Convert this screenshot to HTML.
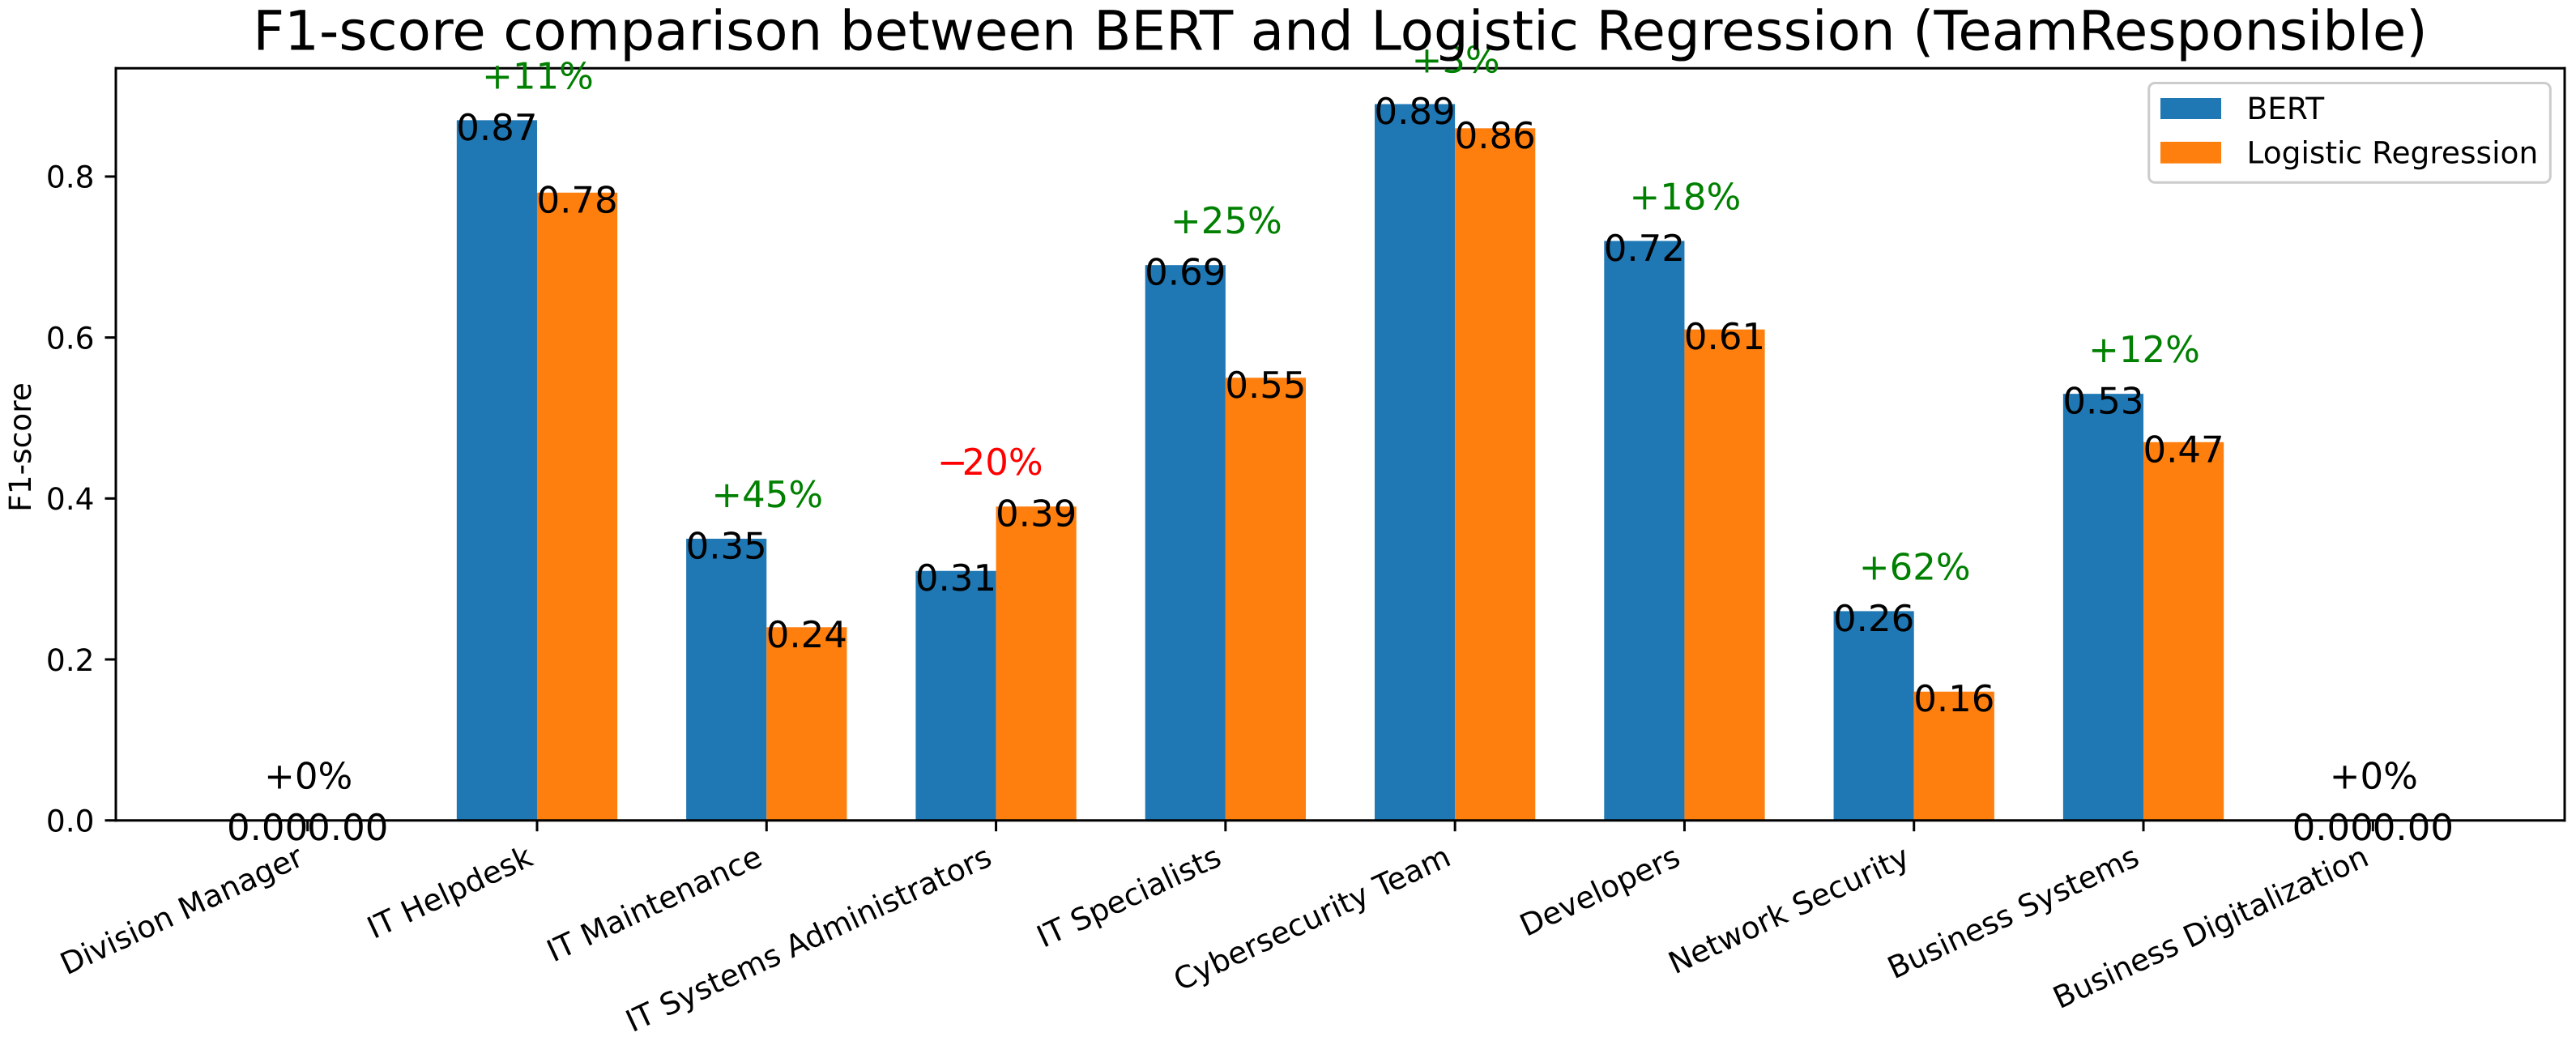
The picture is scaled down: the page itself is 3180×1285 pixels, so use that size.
<!DOCTYPE html>
<html lang="en">
<head>
<meta charset="utf-8">
<title>F1-score comparison</title>
<style>
html,body{margin:0;padding:0;background:#fff;width:3180px;height:1285px;overflow:hidden}
svg{display:block}
text{font-family:"DejaVu Sans","Liberation Sans",sans-serif;text-rendering:geometricPrecision}
</style>
</head>
<body>
<svg id="chart" xmlns="http://www.w3.org/2000/svg" width="3180" height="1285" viewBox="0 0 3180 1285">
<rect x="0" y="0" width="3180" height="1285" fill="#ffffff"></rect>
</svg>
<script>
const categories = ['Division Manager','IT Helpdesk','IT Maintenance','IT Systems Administrators','IT Specialists','Cybersecurity Team','Developers','Network Security','Business Systems','Business Digitalization'];
const bertValues = [0,0.87,0.35,0.31,0.69,0.89,0.72,0.26,0.53,0];
const logregValues = [0,0.78,0.24,0.39,0.55,0.86,0.61,0.16,0.47,0];
const improvementPct = [0,11,45,-20,25,3,18,62,12,0];
const yTickValues = [0,0.2,0.4,0.6,0.8];

const svg = document.getElementById('chart');
const NS = 'http://www.w3.org/2000/svg';
const plot = {left:143, right:3166, top:84.3, bottom:1012.7};
const xStep = (plot.right - plot.left) / (categories.length - 1 + 2 * 0.8355);
const yUnit = (plot.bottom - plot.top) / (Math.max(...bertValues, ...logregValues) * 1.05);
const barWidth = 0.35;
function xScale(i){ return plot.left + (i + 0.8355) * xStep; }
function yScale(v){ return plot.bottom - v * yUnit; }
function make(tag, attrs, txt){
  const el = document.createElementNS(NS, tag);
  for (const k in attrs) el.setAttribute(k, attrs[k]);
  if (txt !== undefined) el.textContent = txt;
  svg.appendChild(el);
  return el;
}
function slug(s){ return s.toLowerCase().replace(/[^a-z0-9]+/g,'-'); }

// bars
categories.forEach((c, i) => {
  const s = slug(c);
  const bv = bertValues[i], lv = logregValues[i];
  const b = make('rect', {x:xScale(i - barWidth), y:yScale(bv), width:barWidth * xStep, height:plot.bottom - yScale(bv), fill:'#1f77b4'});
  
  
  const l = make('rect', {x:xScale(i), y:yScale(lv), width:barWidth * xStep, height:plot.bottom - yScale(lv), fill:'#ff7f0e'});
  
  
});

// x ticks and labels
categories.forEach((c, i) => {
  const s = slug(c);
  const t = make('line', {x1:xScale(i), x2:xScale(i), y1:plot.bottom, y2:plot.bottom + 13.5, stroke:'#000', 'stroke-width':3});
  
  
  const ax = xScale(i) - 2.8, ay = 1066.6;
  const lab = make('text', {x:ax, y:ay, 'font-size':37.5, 'text-anchor':'end', fill:'#000', transform:'rotate(-25 ' + ax + ' ' + ay + ')'}, c);
  
  
});

// y ticks and labels
yTickValues.forEach(v => {
  const y = yScale(v);
  const t = make('line', {x1:plot.left - 13.5, x2:plot.left, y1:y, y2:y, stroke:'#000', 'stroke-width':3});
  
  
  const lab = make('text', {x:116.5, y:y + 13.8, 'font-size':37.5, 'text-anchor':'end', fill:'#000'}, v.toFixed(1));
  
  
});

// axes frame
const spineLeft = make('line', {x1:plot.left, x2:plot.left, y1:plot.top - 1.5, y2:plot.bottom + 1.5, stroke:'#000', 'stroke-width':3});


const spineRight = make('line', {x1:plot.right, x2:plot.right, y1:plot.top - 1.5, y2:plot.bottom + 1.5, stroke:'#000', 'stroke-width':3});


const spineTop = make('line', {x1:plot.left - 1.5, x2:plot.right + 1.5, y1:plot.top, y2:plot.top, stroke:'#000', 'stroke-width':3});


const spineBottom = make('line', {x1:plot.left - 1.5, x2:plot.right + 1.5, y1:plot.bottom, y2:plot.bottom, stroke:'#000', 'stroke-width':3});



// value labels and percentage annotations
categories.forEach((c, i) => {
  const s = slug(c);
  const bv = bertValues[i], lv = logregValues[i], p = improvementPct[i];
  const bl = make('text', {x:xScale(i - barWidth / 2), y:yScale(bv) + 24.5, 'font-size':45, 'text-anchor':'middle', fill:'#000'}, bv.toFixed(2));
  
  
  const ll = make('text', {x:xScale(i + barWidth / 2), y:yScale(lv) + 24.5, 'font-size':45, 'text-anchor':'middle', fill:'#000'}, lv.toFixed(2));
  
  
  const colour = p > 0 ? '#008000' : (p < 0 ? '#ff0000' : '#000000');
  const px = xScale(i) + (p < 0 ? -7.3 : 1);
  const pl = make('text', {x:px, y:yScale(Math.max(bv, lv)) - 39, 'font-size':45, 'text-anchor':'middle', fill:colour});
  const signSpan = document.createElementNS(NS, 'tspan');
  signSpan.textContent = p < 0 ? '\u2212' : '+';
  pl.appendChild(signSpan);
  const numSpan = document.createElementNS(NS, 'tspan');
  if (p < 0) numSpan.setAttribute('dx', '-7');
  numSpan.textContent = Math.abs(p) + '%';
  pl.appendChild(numSpan);
  
  
});
</script>

<script>
// legend, title and y-axis title
const legendBox = make('rect', {x:2652.7, y:102.5, width:495.6, height:122.7, rx:7.5, ry:7.5, fill:'#ffffff', 'fill-opacity':0.8, stroke:'#cccccc', 'stroke-width':3});


const legendBertSwatch = make('rect', {x:2667, y:121, width:75, height:26, fill:'#1f77b4'});


const legendBertText = make('text', {x:2773.5, y:147.2, 'font-size':37.5, fill:'#000'}, 'BERT');


const legendLrSwatch = make('rect', {x:2667, y:175, width:75, height:26.7, fill:'#ff7f0e'});


const legendLrText = make('text', {x:2773.5, y:201.5, 'font-size':37.5, fill:'#000'}, 'Logistic Regression');



const yTitle = make('text', {x:38, y:552, 'font-size':37.5, 'text-anchor':'middle', fill:'#000', transform:'rotate(-90 38 552)'}, 'F1-score');



const chartTitle = make('text', {x:(plot.left + plot.right) / 2, y:61.7, 'font-size':67.5, 'text-anchor':'middle', fill:'#000'}, 'F1-score comparison between BERT and Logistic Regression (TeamResponsible)');


</script>
</body>
</html>
